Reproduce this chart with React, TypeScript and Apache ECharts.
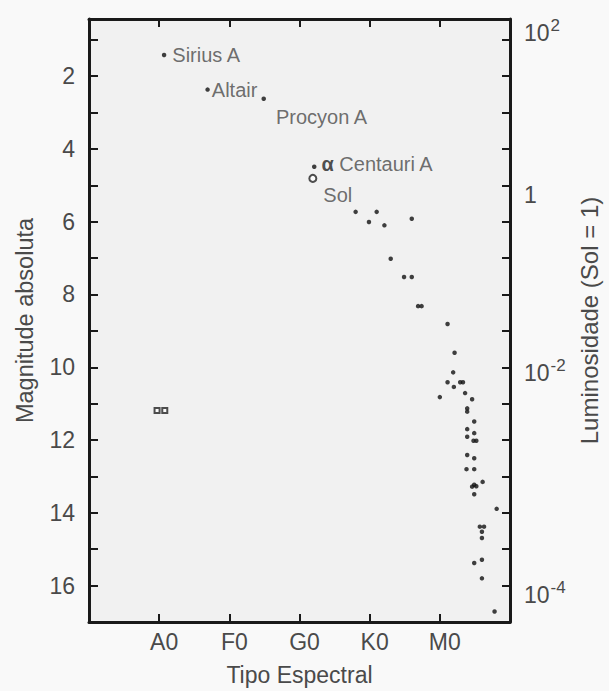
import React, { useEffect, useRef } from "react";
import * as echarts from "echarts";

// Spectral type axis (value positions of the classes)
const spectralTicks = [1, 2, 3, 4, 5];
const spectralLabels = ["A0", "F0", "G0", "K0", "M0"];

// Absolute magnitude axis
const magnitudeTicks = [1, 2, 3, 4, 5, 6, 7, 8, 9, 10, 11, 12, 13, 14, 15, 16];
const magnitudeLabels = [2, 4, 6, 8, 10, 12, 14, 16];

// Luminosity axis (labels placed at magnitude positions as drawn)
const luminosityPositions = [0.75, 5.2, 10.1, 16.2];
const luminosityExponents = [2, 0, -2, -4];

// Named stars: [spectral position, magnitude]
const namedStars = [
  { name: "Sirius A", value: [1.07, 1.42] },
  { name: "Altair", value: [1.69, 2.37] },
  { name: "Procyon A", value: [2.49, 2.62] },
  { name: "α Centauri A", value: [3.21, 4.49] },
];

const sunPoint = { name: "Sol", value: [3.19, 4.81] };

// Main-sequence stars: [spectral position, magnitude]
const mainSequence: [number, number][] = [
  [3.8, 5.73], [4.1, 5.73], [3.99, 6.01], [4.21, 6.1], [4.6, 5.92],
  [4.3, 7.02], [4.49, 7.52], [4.6, 7.52], [4.69, 8.32], [4.74, 8.32],
  [5.11, 8.81], [5.21, 9.6], [5.19, 10.14], [5.11, 10.41], [5.2, 10.54],
  [5.29, 10.41], [5.33, 10.41], [5.0, 10.82], [5.36, 10.71], [5.46, 10.88],
  [5.39, 11.13], [5.39, 11.22], [5.49, 11.49], [5.39, 11.7], [5.49, 11.81],
  [5.39, 11.91], [5.48, 12.02], [5.52, 12.02], [5.39, 12.41], [5.49, 12.5],
  [5.38, 12.8], [5.49, 12.8], [5.46, 13.28], [5.49, 13.23], [5.52, 13.27],
  [5.61, 13.15], [5.49, 13.49], [5.81, 13.89], [5.57, 14.38], [5.63, 14.38],
  [5.6, 14.52], [5.6, 14.69], [5.49, 15.38], [5.6, 15.29], [5.6, 15.8],
  [5.78, 16.71],
];

// White dwarfs
const whiteDwarfs: [number, number][] = [
  [0.97, 11.19],
  [1.08, 11.19],
];

const FONT = '"Liberation Sans", Arial, Helvetica, sans-serif';
const TEXT = "#4a4a4a";
const AXIS = "#1a1a1a";

const labelOffsets: Record<string, { distance: number; offset: [number, number] }> = {
  "Sirius A": { distance: 6, offset: [0, 0] },
  Altair: { distance: 2, offset: [0, 0] },
  "Procyon A": { distance: 6, offset: [4, 18] },
  "α Centauri A": { distance: 5, offset: [0, -3] },
  Sol: { distance: 3, offset: [3, 17] },
};

export default function App() {
  const ref = useRef<HTMLDivElement>(null);

  useEffect(() => {
    if (!ref.current) return;
    const chart = echarts.init(ref.current, undefined, { renderer: "svg" });

    const supText = (e: number) => (e === 0 ? "{b|1}" : `{b|10}{s|${e}}`);

    const option: any = {
      animation: false,
      backgroundColor: "#f9f9f9",
      grid: {
        left: 89,
        right: 85,
        top: 19,
        bottom: 69,
        show: true,
        backgroundColor: "#f1f1f1",
        borderWidth: 0,
      },
      xAxis: [
        {
          type: "value",
          position: "bottom",
          min: 0,
          max: 6,
          name: "Tipo Espectral",
          nameLocation: "middle",
          nameGap: 41,
          nameTextStyle: { fontSize: 23, color: TEXT, fontFamily: FONT },
          axisLine: { show: true, onZero: false, lineStyle: { color: AXIS, width: 3 } },
          axisTick: { show: true, inside: true, length: 8, lineStyle: { color: AXIS, width: 2 }, customValues: spectralTicks },
          axisLabel: {
            show: true,
            customValues: spectralTicks,
            formatter: (v: number) => spectralLabels[spectralTicks.indexOf(Math.round(v))] ?? "",
            fontSize: 23,
            color: TEXT,
            fontFamily: FONT,
            margin: 8,
            padding: [0, 0, 0, 10],
          },
          splitLine: { show: false },
        },
        {
          type: "value",
          position: "top",
          min: 0,
          max: 6,
          axisLine: { show: true, onZero: false, lineStyle: { color: AXIS, width: 3 } },
          axisTick: { show: true, inside: true, length: 8, lineStyle: { color: AXIS, width: 2 }, customValues: spectralTicks },
          axisLabel: { show: false },
          splitLine: { show: false },
        },
      ],
      yAxis: [
        {
          type: "value",
          position: "left",
          inverse: true,
          min: 0.43,
          max: 17,
          name: "Magnitude absoluta",
          nameLocation: "middle",
          nameRotate: 90,
          nameGap: 52,
          nameTextStyle: { fontSize: 23.5, color: TEXT, fontFamily: FONT },
          axisLine: { show: true, onZero: false, lineStyle: { color: AXIS, width: 3 } },
          axisTick: { show: true, inside: true, length: 9, lineStyle: { color: AXIS, width: 2 }, customValues: magnitudeTicks },
          axisLabel: {
            show: true,
            customValues: magnitudeLabels,
            formatter: (v: number) => String(Math.round(v)),
            fontSize: 23,
            color: TEXT,
            fontFamily: FONT,
            margin: 14,
          },
          splitLine: { show: false },
        },
        {
          type: "value",
          position: "right",
          inverse: true,
          min: 0.43,
          max: 17,
          name: "Luminosidade (Sol = 1)",
          nameLocation: "middle",
          nameRotate: 90,
          nameGap: 67,
          nameTextStyle: { fontSize: 24, color: TEXT, fontFamily: FONT },
          axisLine: { show: true, onZero: false, lineStyle: { color: AXIS, width: 3 } },
          axisTick: { show: true, inside: true, length: 8, lineStyle: { color: AXIS, width: 2 }, customValues: magnitudeTicks },
          axisLabel: {
            show: true,
            customValues: luminosityPositions,
            formatter: (v: number) => {
              const i = luminosityPositions.findIndex((p) => Math.abs(p - v) < 1e-6);
              return i >= 0 ? supText(luminosityExponents[i]) : "";
            },
            margin: 14,
            rich: {
              b: { fontSize: 23, color: TEXT, fontFamily: FONT, lineHeight: 28, verticalAlign: "bottom" },
              s: { fontSize: 17, color: TEXT, fontFamily: FONT, lineHeight: 28, verticalAlign: "top", padding: [0, 0, 9, 1] },
            },
          },
          splitLine: { show: false },
        },
      ],
      series: [
        {
          type: "scatter",
          name: "Sequência principal",
          data: mainSequence,
          symbol: "circle",
          symbolSize: 4.5,
          itemStyle: { color: "#111" },
          silent: true,
        },
        {
          type: "scatter",
          name: "Estrelas",
          data: namedStars.map((s) => ({
            name: s.name,
            value: s.value,
            label: {
              distance: labelOffsets[s.name].distance,
              offset: labelOffsets[s.name].offset,
            },
          })),
          symbol: "circle",
          symbolSize: 4.5,
          itemStyle: { color: "#111" },
          label: {
            show: true,
            position: "right",
            formatter: (p: any) =>
              p.name.startsWith("α") ? `{a|α}${p.name.slice(1)}` : p.name,
            fontSize: 20,
            color: TEXT,
            fontFamily: FONT,
            rich: {
              a: { fontSize: 20, fontWeight: "bold", color: "#222", fontFamily: FONT },
            },
          },
          silent: true,
        },
        {
          type: "scatter",
          name: "Sol",
          data: [
            {
              name: sunPoint.name,
              value: sunPoint.value,
              label: {
                distance: labelOffsets.Sol.distance,
                offset: labelOffsets.Sol.offset,
              },
            },
          ],
          symbol: "emptyCircle",
          symbolSize: 7,
          itemStyle: { color: "#222", borderColor: "#222", borderWidth: 2 },
          label: {
            show: true,
            position: "right",
            formatter: "{b}",
            fontSize: 20,
            color: TEXT,
            fontFamily: FONT,
          },
          silent: true,
        },
        {
          type: "scatter",
          name: "Anãs brancas",
          data: whiteDwarfs,
          symbol: "emptyRect",
          symbolSize: 5,
          itemStyle: { color: "#222", borderColor: "#222", borderWidth: 1.5 },
          silent: true,
        },
      ],
    };

    chart.setOption(option);
    return () => chart.dispose();
  }, []);

  return (
    <div
      ref={ref}
      style={{ position: "fixed", left: 0, top: 0, width: 609, height: 691, background: "#f9f9f9" }}
    />
  );
}
